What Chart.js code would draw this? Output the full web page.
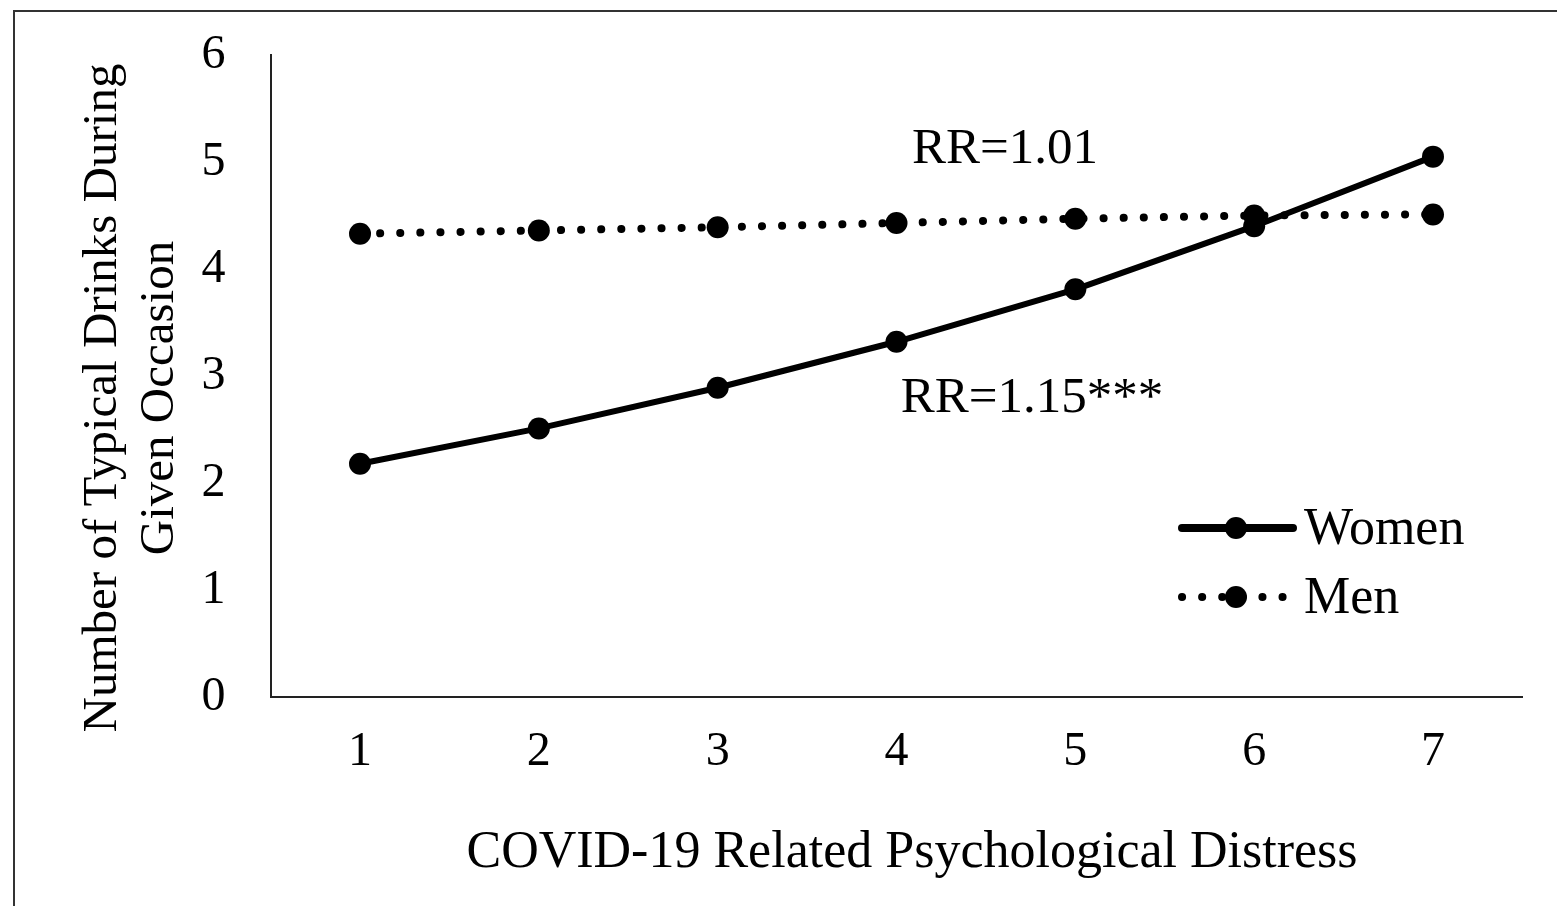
<!DOCTYPE html>
<html>
<head>
<meta charset="utf-8">
<title>Typical drinks by COVID-19 distress</title>
<script src="https://cdn.jsdelivr.net/npm/chart.js@4.4.1/dist/chart.umd.min.js"></script>
<style>
  html, body { margin: 0; padding: 0; background: #fff; overflow: hidden; }
  #frame { position: absolute; left: 13px; top: 10px; width: 1600px; height: 1000px; border: 2px solid #333; }
  #chart { position: absolute; left: 0; top: 0; }
</style>
</head>
<body>
<div id="frame"></div>
<canvas id="chart" width="1557" height="906"></canvas>
<script>
// data
const distress = ['1', '2', '3', '4', '5', '6', '7'];
const women = [2.18, 2.51, 2.89, 3.32, 3.81, 4.40, 5.05];
const men = [4.33, 4.36, 4.39, 4.43, 4.47, 4.50, 4.51];
const yTicks = [0, 1, 2, 3, 4, 5, 6];

const xTitle = 'COVID-19 Related Psychological Distress';
const yTitle = ['Number of Typical Drinks During', 'Given Occasion'];
const notes = [
  { text: 'RR=1.01', x: 1005, y: 163 },
  { text: 'RR=1.15***', x: 1032, y: 412 }
];

const SERIF = '"Liberation Serif", "Times New Roman", serif';
const FONT = '51px ' + SERIF;

// titles, RR notes and the in-plot legend
const extras = {
  id: 'extras',
  afterDraw(chart){
    const ctx = chart.ctx;
    ctx.save();
    ctx.fillStyle = '#000';
    ctx.textAlign = 'center';
    ctx.textBaseline = 'alphabetic';
    ctx.font = '52px ' + SERIF;
    ctx.fillText(xTitle, 912, 867);
    ctx.font = FONT;
    notes.forEach(n => ctx.fillText(n.text, n.x, n.y));

    // y title, rotated
    ctx.save();
    ctx.font = '49px ' + SERIF;
    ctx.translate(103, 398);
    ctx.rotate(-Math.PI / 2);
    ctx.textBaseline = 'middle';
    yTitle.forEach((line, i) => ctx.fillText(line, 0, i * 57));
    ctx.restore();

    // legend
    const rows = [{ y: 528 }, { y: 597 }];
    chart.data.datasets.forEach((ds, i) => {
      const y = rows[i].y;
      ctx.save();
      ctx.strokeStyle = ds.borderColor;
      ctx.lineWidth = i === 0 ? 8 : ds.borderWidth;
      ctx.lineCap = ds.borderCapStyle || 'butt';
      ctx.setLineDash(ds.borderDash || []);
      ctx.beginPath();
      ctx.moveTo(1182, y);
      ctx.lineTo(1293, y);
      ctx.stroke();
      ctx.setLineDash([]);
      ctx.fillStyle = ds.pointBackgroundColor;
      ctx.beginPath();
      ctx.arc(1236, y, ds.pointRadius, 0, Math.PI * 2);
      ctx.fill();
      ctx.restore();
      ctx.font = '52px ' + SERIF;
      ctx.textAlign = 'left';
      ctx.textBaseline = 'middle';
      ctx.fillText(ds.label, 1304, y + 2);
    });
    ctx.restore();
  }
};

new Chart(document.getElementById('chart'), {
  type: 'line',
  data: {
    labels: distress,
    datasets: [
      {
        label: 'Women', data: women,
        borderColor: '#000', borderWidth: 6, borderCapStyle: 'round',
        pointRadius: 11, pointBackgroundColor: '#000', pointBorderWidth: 0,
        tension: 0
      },
      {
        label: 'Men', data: men,
        borderColor: '#000', borderWidth: 8, borderCapStyle: 'round', borderDash: [0.1, 20],
        pointRadius: 11, pointBackgroundColor: '#000', pointBorderWidth: 0,
        tension: 0
      }
    ]
  },
  options: {
    responsive: false,
    animation: false,
    layout: { padding: { left: 0, right: 34.6, top: 55, bottom: 0 } },
    plugins: { legend: { display: false }, tooltip: { enabled: false } },
    scales: {
      x: {
        offset: true,
        grid: { display: false, drawTicks: false },
        border: { display: true, color: '#222', width: 2 },
        ticks: { color: '#000', font: { family: SERIF, size: 48 }, padding: 27, maxRotation: 0 },
        afterFit(scale){ scale.height = 209; }
      },
      y: {
        min: 0, max: 6,
        // tick length gives the gap to the labels (ticks.padding would also push the plot top down)
        grid: { display: false, drawTicks: true, tickLength: 45 },
        border: { display: true, color: '#222', width: 2 },
        ticks: {
          color: '#000', font: { family: SERIF, size: 48 }, padding: 0,
          stepSize: 1, callback: (v) => yTicks.includes(v) ? String(v) : ''
        },
        afterFit(scale){ scale.width = 270.6; }
      }
    }
  },
  plugins: [extras]
});
</script>
</body>
</html>
